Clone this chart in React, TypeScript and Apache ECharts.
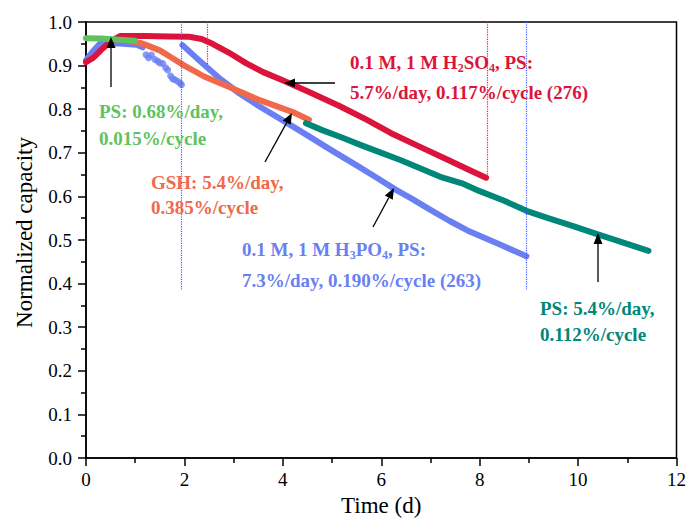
import React, { useEffect, useRef } from 'react';
import * as echarts from 'echarts';

// ---- data (time in days, normalized capacity) ----
const redH2SO4: [number, number][] = [
  [0, 0.908], [0.15, 0.918], [0.3, 0.935], [0.5, 0.955], [0.69, 0.968], [1.2, 0.968],
  [1.7, 0.967], [2.1, 0.966], [2.35, 0.961], [2.57, 0.95], [2.9, 0.93], [3.26, 0.905],
  [3.6, 0.885], [3.96, 0.868], [4.5, 0.841], [5.14, 0.808], [5.7, 0.776], [6.2, 0.745],
  [6.8, 0.713], [7.35, 0.684], [7.8, 0.66], [8.13, 0.643],
];
const blueH3PO4Start: [number, number][] = [
  [0, 0.912], [0.12, 0.93], [0.28, 0.95], [0.6, 0.951], [1.03, 0.948], [1.15, 0.942],
];
const blueH3PO4Dots: [number, number][] = [
  [1.22, 0.925], [1.27, 0.918], [1.33, 0.924], [1.4, 0.914], [1.46, 0.91], [1.5, 0.906],
  [1.56, 0.905], [1.62, 0.895], [1.66, 0.89], [1.72, 0.876], [1.76, 0.87], [1.8, 0.868],
  [1.86, 0.864], [1.91, 0.86], [1.94, 0.856],
];
const blueH3PO4Main: [number, number][] = [
  [1.96, 0.947], [2.3, 0.912], [2.7, 0.872], [3.12, 0.836], [3.5, 0.808], [3.99, 0.775],
  [4.5, 0.74], [5.0, 0.705], [5.5, 0.671], [5.95, 0.64], [6.3, 0.615], [6.6, 0.596],
  [7.0, 0.569], [7.4, 0.543], [7.75, 0.522], [8.4, 0.49], [8.95, 0.463],
];
const orangeGSH: [number, number][] = [
  [0.93, 0.955], [1.1, 0.952], [1.23, 0.947], [1.5, 0.935], [1.76, 0.917], [2.0, 0.9],
  [2.4, 0.875], [2.91, 0.851], [3.5, 0.822], [4.19, 0.794], [4.53, 0.776],
];
const greenPS: [number, number][] = [
  [0, 0.963], [0.3, 0.962], [0.6, 0.96], [1.0, 0.957],
];
const tealPS: [number, number][] = [
  [4.47, 0.768], [4.8, 0.752], [5.2, 0.735], [5.6, 0.717], [5.95, 0.702], [6.4, 0.683],
  [6.8, 0.664], [7.2, 0.645], [7.64, 0.63], [8.0, 0.612], [8.5, 0.59], [8.95, 0.567],
  [9.39, 0.55], [9.9, 0.532], [10.34, 0.515], [10.81, 0.498], [11.43, 0.475],
];
// vertical dotted guide lines: [x, yTop, yBottom]
const blueGuides: [number, number, number][] = [[1.94, 1.0, 0.385], [8.95, 1.0, 0.385]];
const redGuides: [number, number, number][] = [[2.46, 1.0, 0.9], [8.16, 1.0, 0.64]];

const xAxisMin = 0, xAxisMax = 12, xAxisStep = 2;
const yAxisMin = 0, yAxisMax = 1, yAxisStep = 0.1;

const FONT = '"Liberation Serif", "Times New Roman", serif';
const C_RED = '#DC143C';
const C_BLUE = '#6A7FF2';
const C_ORANGE = '#F0694A';
const C_GREEN = '#5EC35E';
const C_TEAL = '#00877A';

function arrow(x1: number, y1: number, x2: number, y2: number) {
  const dx = x2 - x1, dy = y2 - y1;
  const L = Math.hypot(dx, dy);
  const ux = dx / L, uy = dy / L;
  const hl = 11, hw = 4.5;
  const bx = x2 - ux * hl, by = y2 - uy * hl;
  return [
    { type: 'line', shape: { x1, y1, x2: bx, y2: by }, style: { stroke: '#000', lineWidth: 1.3 }, z: 100 },
    {
      type: 'polygon',
      shape: { points: [[x2, y2], [bx - uy * hw, by + ux * hw], [bx + uy * hw, by - ux * hw]] },
      style: { fill: '#000' }, z: 100,
    },
  ];
}

function label(x: number, y: number, text: string, color: string, rich?: boolean) {
  const style: any = {
    x, y, text, fill: color,
    fontFamily: FONT, fontSize: 19, fontWeight: 'bold',
    verticalAlign: 'middle', align: 'left',
  };
  if (rich) {
    style.rich = {
      a: { fontFamily: FONT, fontSize: 19, fontWeight: 'bold', fill: color, lineHeight: 24, verticalAlign: 'middle' },
      s: { fontFamily: FONT, fontSize: 12, fontWeight: 'bold', fill: color, lineHeight: 12, verticalAlign: 'bottom' },
    };
  }
  return { type: 'text', style, z: 100 };
}

function guideSeries(guides: [number, number, number][], color: string) {
  return {
    type: 'line',
    data: [],
    silent: true,
    markLine: {
      symbol: 'none',
      silent: true,
      label: { show: false },
      lineStyle: { color, type: 'dotted', width: 1.2 },
      data: guides.map(([x, y1, y2]) => [{ coord: [x, y1] }, { coord: [x, y2] }]),
    },
  };
}

function lineSeries(data: [number, number][], color: string, z: number) {
  return {
    type: 'line',
    data,
    showSymbol: false,
    symbol: 'none',
    z,
    lineStyle: { color, width: 6, cap: 'round', join: 'round' },
    itemStyle: { color },
  };
}

export default function App() {
  const ref = useRef<HTMLDivElement>(null);
  useEffect(() => {
    const chart = echarts.init(ref.current!, null, { renderer: 'svg' });
    const axisLine = { show: true, onZero: false, lineStyle: { color: '#000', width: 1.5 } };
    const option: any = {
      animation: false,
      backgroundColor: '#fff',
      grid: { left: 86, right: 10, top: 22, bottom: 65, show: true, borderColor: '#000', borderWidth: 1.5, backgroundColor: 'transparent' },
      xAxis: {
        type: 'value', min: xAxisMin, max: xAxisMax, interval: xAxisStep,
        name: 'Time (d)', nameLocation: 'middle', nameGap: 33,
        nameTextStyle: { fontFamily: FONT, fontSize: 23, color: '#000' },
        axisLine,
        axisTick: { show: true, inside: false, length: 8, lineStyle: { color: '#000', width: 1.5 } },
        minorTick: { show: true, splitNumber: 2, length: 5, lineStyle: { color: '#000', width: 1.5 } },
        splitLine: { show: false },
        axisLabel: { fontFamily: FONT, fontSize: 19, color: '#000', margin: 12, formatter: (v: number) => String(v) },
      },
      yAxis: {
        type: 'value', min: yAxisMin, max: yAxisMax, interval: yAxisStep,
        name: 'Normalized capacity', nameLocation: 'middle', nameGap: 50,
        nameTextStyle: { fontFamily: FONT, fontSize: 23, color: '#000', padding: [0, 0, 0, 15] },
        axisLine,
        axisTick: { show: true, inside: false, length: 8, lineStyle: { color: '#000', width: 1.5 } },
        minorTick: { show: true, splitNumber: 2, length: 5, lineStyle: { color: '#000', width: 1.5 } },
        splitLine: { show: false },
        axisLabel: { fontFamily: FONT, fontSize: 19, color: '#000', margin: 14, formatter: (v: number) => v.toFixed(1) },
      },
      series: [
        guideSeries(blueGuides, '#3A5BFF'),
        guideSeries(redGuides, '#F01050'),
        lineSeries(blueH3PO4Start, C_BLUE, 2),
        {
          type: 'scatter', data: blueH3PO4Dots, symbolSize: 7, z: 2,
          itemStyle: { color: C_BLUE },
        },
        lineSeries(blueH3PO4Main, C_BLUE, 2),
        lineSeries(redH2SO4, C_RED, 3),
        lineSeries(orangeGSH, C_ORANGE, 4),
        lineSeries(tealPS, C_TEAL, 4),
        lineSeries(greenPS, C_GREEN, 5),
      ],
      graphic: [
        ...arrow(111, 87, 111, 37),
        ...arrow(335, 83, 284, 83),
        ...arrow(265, 162, 292, 113),
        ...arrow(373, 227, 394, 188),
        ...arrow(598, 282, 598, 233),
        label(99, 111, 'PS: 0.68%/day,', C_GREEN),
        label(99, 138, '0.015%/cycle', C_GREEN),
        label(151, 182, 'GSH: 5.4%/day,', C_ORANGE),
        label(151, 207, '0.385%/cycle', C_ORANGE),
        label(242, 249, '{a|0.1 M, 1 M H}{s|3}{a|PO}{s|4}{a|, PS:}', C_BLUE, true),
        label(242, 280, '7.3%/day, 0.190%/cycle (263)', C_BLUE),
        label(350, 62, '{a|0.1 M, 1 M H}{s|2}{a|SO}{s|4}{a|, PS:}', C_RED, true),
        label(350, 92, '5.7%/day, 0.117%/cycle (276)', C_RED),
        label(540, 308, 'PS: 5.4%/day,', C_TEAL),
        label(540, 334, '0.112%/cycle', C_TEAL),
      ],
    };
    chart.setOption(option);
    return () => chart.dispose();
  }, []);
  return (
    <div
      ref={ref}
      style={{ position: 'fixed', left: 0, top: 0, width: 689, height: 523, background: '#fff' }}
    />
  );
}
